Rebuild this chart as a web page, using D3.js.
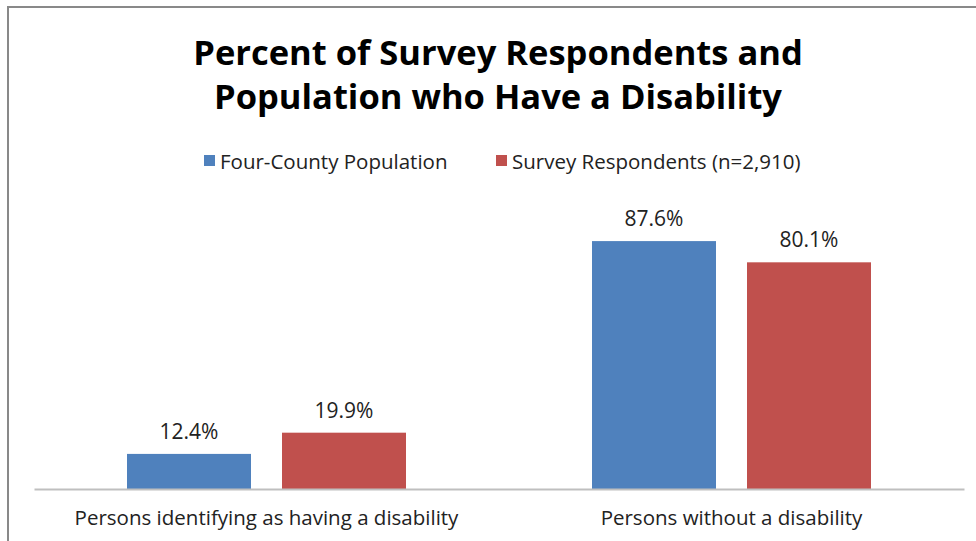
<!DOCTYPE html>
<html lang="en">
<head>
    <meta charset="utf-8">
    <title>Percent of Survey Respondents and Population who Have a Disability</title>
    <script src="https://d3js.org/d3.v7.min.js"></script>
    <style>
        body { margin: 0; background: #fff; font-family: 'Open Sans', sans-serif; }
        svg { display: block; }
    </style>
</head>
<body>
    <svg id="chart"></svg>
    <script>
    // chart data
    var categories = ["Persons identifying as having a disability", "Persons without a disability"];
    var seriesNames = ["Four-County Population", "Survey Respondents (n=2,910)"];
    var population = [12.4, 87.6];
    var respondents = [19.9, 80.1];
    var seriesColors = ["#4F81BD", "#C0504D"];

    var width = 976, height = 541;
    var plot = { left: 34, right: 964, top: 206, bottom: 489 };
    var font = "'Open Sans', sans-serif";

    var svg = d3.select("#chart").attr("width", width).attr("height", height);

    // outer frame (only top and left edges are inside the picture)
    svg.append("path")
        .attr("d", "M8,541 V7 H976")
        .attr("fill", "none")
        .attr("stroke", "#898989")
        .attr("stroke-width", 2);

    // title
    var title = svg.append("text")
        .attr("text-anchor", "middle")
        .attr("font-family", font)
        .attr("font-weight", "bold")
        .attr("font-size", 34.5)
        .attr("fill", "#000");
    title.append("tspan").attr("x", 498).attr("y", 65).text("Percent of Survey Respondents and");
    title.append("tspan").attr("x", 498).attr("y", 109).text("Population who Have a Disability");

    // scales
    var x0 = d3.scaleBand().domain(categories).range([plot.left, plot.right]);
    var x1 = d3.scaleBand().domain(seriesNames).range([93, x0.bandwidth() - 93]).paddingInner(0.2);
    var y = d3.scaleLinear().domain([0, 100]).range([plot.bottom, plot.top]);

    var rows = categories.map(function(c, i) {
        return { cat: c, values: [population[i], respondents[i]] };
    });

    var groups = svg.selectAll("g.cat")
        .data(rows)
        .enter().append("g")
        .attr("class", "cat")
        .attr("transform", function(d) { return "translate(" + x0(d.cat) + ",0)"; });

    groups.selectAll("rect")
        .data(function(d) { return d.values.map(function(v, j) { return { s: seriesNames[j], v: v, j: j }; }); })
        .enter().append("rect")
        .attr("x", function(d) { return x1(d.s); })
        .attr("width", x1.bandwidth())
        .attr("y", function(d) { return y(d.v); })
        .attr("height", function(d) { return y(0) - y(d.v); })
        .attr("fill", function(d) { return seriesColors[d.j]; });

    // value labels above the bars
    groups.selectAll("text.val")
        .data(function(d) { return d.values.map(function(v, j) { return { s: seriesNames[j], v: v }; }); })
        .enter().append("text")
        .attr("class", "val")
        .attr("x", function(d) { return x1(d.s) + x1.bandwidth() / 2; })
        .attr("y", function(d) { return y(d.v) - 15; })
        .attr("text-anchor", "middle")
        .attr("font-family", font)
        .attr("font-size", 21)
        .attr("fill", "#222")
        .text(function(d) { return d3.format(".1f")(d.v) + "%"; });

    // category axis
    var xAxis = svg.append("g")
        .attr("transform", "translate(0," + plot.bottom + ")")
        .call(d3.axisBottom(x0).tickSize(0).tickPadding(21));
    xAxis.select(".domain").attr("stroke", "#BFBFBF").attr("stroke-width", 2);
    xAxis.selectAll("text")
        .attr("font-family", font)
        .attr("font-size", 20.5)
        .attr("fill", "#222");

    // legend
    var legendX = [204, 496];
    var legend = svg.selectAll("g.legend")
        .data(seriesNames)
        .enter().append("g")
        .attr("class", "legend")
        .attr("transform", function(d, i) { return "translate(" + legendX[i] + ",155)"; });
    legend.append("rect")
        .attr("width", 11).attr("height", 11)
        .attr("fill", function(d, i) { return seriesColors[i]; });
    legend.append("text")
        .attr("x", 16).attr("y", 14)
        .attr("font-family", font)
        .attr("font-size", 20.5)
        .attr("fill", "#222")
        .text(function(d) { return d; });
    </script>
</body>
</html>
